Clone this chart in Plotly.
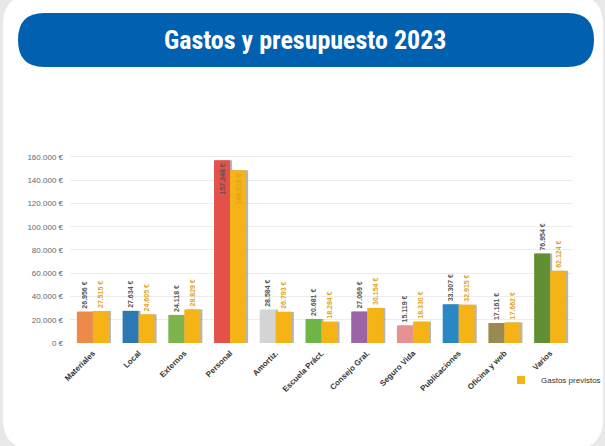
import plotly.graph_objects as go

categories = ["Materiales", "Local", "Externos", "Personal", "Amortiz.", "Escuela Práct.",
              "Consejo Gral.", "Seguro Vida", "Publicaciones", "Oficina y web", "Varios"]
gastos = [26956, 27634, 24118, 157248, 28584, 20681, 27069, 15119, 33307, 17161, 76954]
previstos = [27515, 24605, 28829, 148519, 26793, 18284, 30154, 18330, 32915, 17662, 62124]
bar_colors = ["#ec8a4a", "#2c78b4", "#7db54c", "#e4514b", "#d4d4d4", "#6db546",
              "#9d63a7", "#e79292", "#2a87c6", "#998a52", "#618f34"]
yellow = "#f5b316"
y_ticks = [0, 20000, 40000, 60000, 80000, 100000, 120000, 140000, 160000]
y_ticktext = [f"{v:,.0f} €".replace(",", ".") for v in y_ticks]

# pixel layout helpers
L, R, T, B = 70, 573, 150, 343
W, H = 605, 446
def px(x):
    return (x - L) / (R - L)
def py(y):
    return (B - y) / (B - T)

xs = list(range(len(categories)))
bw = 0.35
sh = 0.045
positions_g = ["inside" if v > 150000 else "outside" for v in gastos]
positions_p = ["inside" if v > 140000 else "outside" for v in previstos]

fig = go.Figure()
shadow = "rgba(90,90,90,0.45)"
fig.add_bar(x=xs, y=gastos, offset=-bw + sh, width=bw, marker_color=shadow,
            marker_line_width=0, showlegend=False, hoverinfo="skip")
fig.add_bar(x=xs, y=gastos, offset=-bw, width=bw, marker_color=bar_colors,
            marker_line_width=0, name="Gastos", showlegend=False,
            texttemplate="<b>%{y:,.0f} €</b>", textposition=positions_g, textangle=-90,
            insidetextanchor="end",
            textfont=dict(family="Liberation Sans", size=7, color="#555555"),
            cliponaxis=False)
fig.add_bar(x=xs, y=previstos, offset=sh, width=bw, marker_color=shadow,
            marker_line_width=0, showlegend=False, hoverinfo="skip")
fig.add_bar(x=xs, y=previstos, offset=0, width=bw, marker_color=yellow,
            marker_line_width=0, name="Gastos previstos", showlegend=False,
            texttemplate="<b>%{y:,.0f} €</b>", textposition=positions_p, textangle=-90,
            insidetextanchor="end",
            textfont=dict(family="Liberation Sans", size=7, color="#e0a21c"),
            cliponaxis=False)
# legend entry
fig.add_scatter(x=[None], y=[None], mode="markers", name="Gastos previstos",
                marker=dict(symbol="square", size=8, color=yellow))

# card background
r = 30
x0, x1, y0, y1 = 3, 603, -5, 449
card = (f"M {px(x0+r)},{py(y0)} L {px(x1-r)},{py(y0)} Q {px(x1)},{py(y0)} {px(x1)},{py(y0+r)} "
        f"L {px(x1)},{py(y1-r)} Q {px(x1)},{py(y1)} {px(x1-r)},{py(y1)} "
        f"L {px(x0+r)},{py(y1)} Q {px(x0)},{py(y1)} {px(x0)},{py(y1-r)} "
        f"L {px(x0)},{py(y0+r)} Q {px(x0)},{py(y0)} {px(x0+r)},{py(y0)} Z")
pr = 26
a0, a1, b0, b1 = 18, 594, 13, 67
pill = (f"M {px(a0+pr)},{py(b0)} L {px(a1-pr)},{py(b0)} Q {px(a1)},{py(b0)} {px(a1)},{py((b0+b1)/2)} "
        f"Q {px(a1)},{py(b1)} {px(a1-pr)},{py(b1)} L {px(a0+pr)},{py(b1)} "
        f"Q {px(a0)},{py(b1)} {px(a0)},{py((b0+b1)/2)} Q {px(a0)},{py(b0)} {px(a0+pr)},{py(b0)} Z")

fig.update_layout(
    width=W, height=H,
    margin=dict(l=L, r=W - R, t=T, b=H - B, autoexpand=False),
    paper_bgcolor="#e8e8e8", plot_bgcolor="white",
    barmode="overlay", separators=",.",
    font=dict(family="Liberation Sans", color="#444444"),
    shapes=[
        dict(type="path", path=card, xref="paper", yref="paper",
             fillcolor="white", line_width=0, layer="below"),
        dict(type="path", path=pill, xref="paper", yref="paper",
             fillcolor="#0260b0", line_width=0, layer="below"),
    ],
    annotations=[dict(text="<b>Gastos y presupuesto 2023</b>", x=px(305), y=py(40),
                      xref="paper", yref="paper", xanchor="center", yanchor="middle",
                      showarrow=False,
                      font=dict(family="Liberation Sans Narrow, Roboto Condensed, DejaVu Sans Condensed",
                                size=26, color="white"))],
    xaxis=dict(range=[-0.5, 10.5], tickmode="array", tickvals=xs,
               ticktext=[f"<b>{c}</b>" for c in categories], tickangle=-45,
               tickfont=dict(size=8, color="#333333"), showgrid=False,
               showline=False, ticks="", zeroline=False, ticklabelstandoff=3),
    yaxis=dict(range=[0, 166000], tickmode="array", tickvals=y_ticks, ticktext=y_ticktext,
               tickfont=dict(size=8, color="#666666"), gridcolor="#ececec",
               gridwidth=1, zeroline=False, ticks="", ticklabelstandoff=6),
    legend=dict(x=px(501), y=py(380), xanchor="left", yanchor="middle",
                bgcolor="rgba(0,0,0,0)", font=dict(size=8, color="#333333"),
                itemwidth=30),
    uniformtext=dict(minsize=7, mode="show"),
)

fig.write_html("out.html", config={"displayModeBar": False},
               post_script="document.body.style.margin='0';")
